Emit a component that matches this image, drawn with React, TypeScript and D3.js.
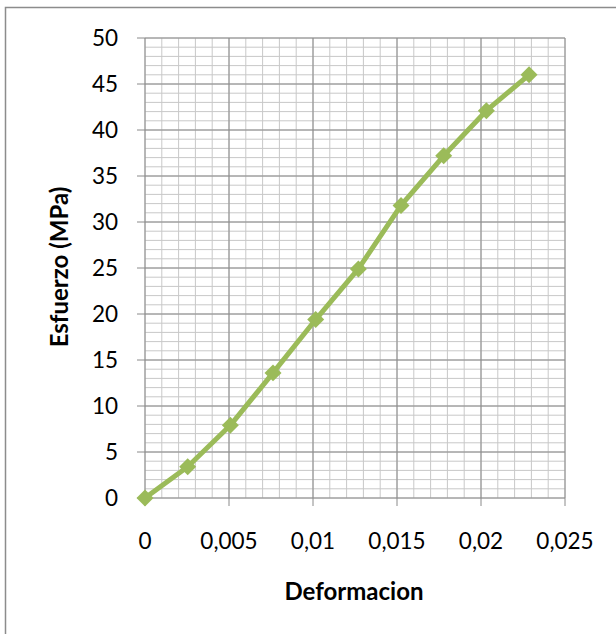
import React from "react";
import * as d3 from "d3";

const deformacion = [0, 0.00254, 0.00508, 0.00762, 0.01016, 0.0127, 0.01524, 0.01778, 0.02032, 0.02286];
const esfuerzo = [0, 3.4, 7.9, 13.6, 19.4, 24.9, 31.8, 37.2, 42.1, 46.0];
const xTicks = [0, 0.005, 0.01, 0.015, 0.02, 0.025];
const yTicks = [0, 5, 10, 15, 20, 25, 30, 35, 40, 45, 50];

export default function App() {
  const W = 616, H = 634;
  const left = 145, right = 565, top = 38, bottom = 498;
  const x = d3.scaleLinear().domain([0, 0.025]).range([left, right]);
  const y = d3.scaleLinear().domain([0, 50]).range([bottom, top]);
  const xMinor = d3.range(0, 26).map((i) => i * 0.001);
  const yMinor = d3.range(0, 51);
  const line = d3.line<number>().x((d, i) => x(deformacion[i])).y((d) => y(d));
  const fmt = (v: number) => (v === 0 ? "0" : String(+v.toFixed(3)).replace(".", ","));
  const font = "Lato, 'Open Sans', sans-serif";
  const green = "#9bbb59";
  return (
    <svg width={W} height={H} style={{ position: "absolute", left: 0, top: 0 }}>
      <rect x={0} y={0} width={W} height={H} fill="white" />
      <rect x={5.5} y={7.5} width={W + 10} height={H + 10} fill="none" stroke="#8c8c8c" strokeWidth={1.5} />
      {xMinor.map((v, i) => (
        <line key={"xm" + i} x1={x(v)} x2={x(v)} y1={top} y2={bottom} stroke="#c8c8c8" strokeWidth={1} />
      ))}
      {yMinor.map((v, i) => (
        <line key={"ym" + i} x1={left} x2={right} y1={y(v)} y2={y(v)} stroke="#c8c8c8" strokeWidth={1} />
      ))}
      {xTicks.map((v, i) => (
        <line key={"xM" + i} x1={x(v)} x2={x(v)} y1={top} y2={bottom + 8} stroke="#8a8a8a" strokeWidth={1} />
      ))}
      {yTicks.map((v, i) => (
        <line key={"yM" + i} x1={left - 8} x2={right} y1={y(v)} y2={y(v)} stroke="#8a8a8a" strokeWidth={1} />
      ))}
      {yTicks.map((v, i) => (
        <text key={"yl" + i} x={118} y={y(v)} dy="0.35em" textAnchor="end" fontFamily={font} fontSize={22.5} fill="#000">
          {v}
        </text>
      ))}
      {xTicks.map((v, i) => (
        <text key={"xl" + i} x={x(v)} y={541} dy="0.35em" textAnchor="middle" fontFamily={font} fontSize={22.5} fill="#000">
          {fmt(v)}
        </text>
      ))}
      <path d={line(esfuerzo) || ""} fill="none" stroke={green} strokeWidth={5} strokeLinejoin="round" />
      {esfuerzo.map((v, i) => (
        <rect
          key={"m" + i}
          x={-6}
          y={-6}
          width={12}
          height={12}
          fill={green}
          transform={`translate(${x(deformacion[i])},${y(v)}) rotate(45)`}
        />
      ))}
      <text
        transform={`translate(60,267) rotate(-90)`}
        textAnchor="middle"
        dy="0.35em"
        fontFamily={font}
        fontWeight="bold"
        fontSize={24}
        fill="#000"
      >
        Esfuerzo (MPa)
      </text>
      <text x={354} y={592} dy="0.35em" textAnchor="middle" fontFamily={font} fontWeight="bold" fontSize={24} fill="#000">
        Deformacion
      </text>
    </svg>
  );
}
